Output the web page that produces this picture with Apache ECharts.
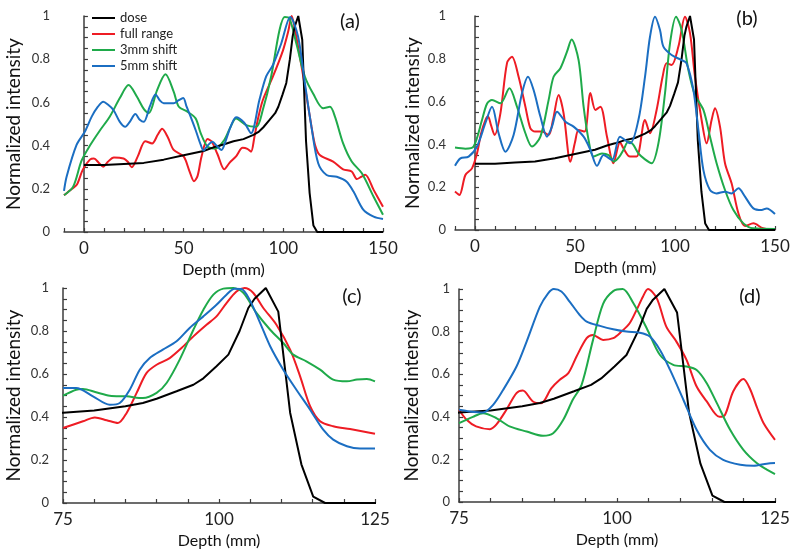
<!DOCTYPE html>
<html>
<head>
    <meta charset="utf-8">
    <title>Normalized intensity vs depth</title>
    <script src="https://cdn.jsdelivr.net/npm/echarts@6/dist/echarts.min.js"></script>
    <style>
        html, body {margin: 0; padding: 0; background: #fff;}
        #main {width: 800px; height: 559px;}
    </style>
</head>
<body>
<div id="main"></div>
<script>
    // series names (legend)
    var names = ['dose', 'full range', '3mm shift', '5mm shift'];
    var colors = ['#000000', '#ee1c24', '#1faa4a', '#1b6ec2'];

    // dose curve [depth mm, intensity], same in every panel
    var dose = [[0, 0.31], [10, 0.31], [20, 0.315], [30, 0.32], [40, 0.335], [50, 0.355], [60, 0.375], [66, 0.395],
        [70, 0.405], [75, 0.42], [80, 0.43], [85, 0.45], [87.8, 0.465], [90, 0.485], [93.2, 0.52], [95.9, 0.55],
        [97.5, 0.58], [99.6, 0.636], [101.5, 0.69], [103.3, 0.80], [104.7, 0.907], [105.7, 0.95], [107.5, 1.0],
        [109.5, 0.89], [111.4, 0.42], [113.2, 0.18], [115.1, 0.03], [117, 0], [150, 0]];

    // panel (a)
    var aFull = [[-10, 0.17], [-6, 0.2], [-3.5, 0.22], [-0.5, 0.29], [3, 0.335], [5, 0.34], [7.5, 0.32], [9.7, 0.302],
        [12, 0.325], [15, 0.345], [19.9, 0.34], [22, 0.325], [24, 0.3], [27, 0.35], [30.8, 0.42], [34.2, 0.41],
        [37, 0.45], [39.2, 0.478], [42, 0.44], [45, 0.38], [50, 0.35], [53, 0.28], [55.2, 0.235], [57, 0.26],
        [59, 0.35], [62, 0.43], [64, 0.42], [67, 0.36], [70.4, 0.29], [73, 0.32], [76.3, 0.35], [79.6, 0.39],
        [82, 0.385], [83.8, 0.372], [85.5, 0.44], [87.2, 0.52], [89.7, 0.61], [94.8, 0.72], [99.8, 0.84],
        [102.5, 0.93], [104.2, 1.0], [106, 0.93], [110, 0.72], [114.1, 0.49], [116, 0.4], [118.3, 0.356],
        [125, 0.326], [130, 0.29], [134.3, 0.28], [136.9, 0.245], [139, 0.255], [141.1, 0.265], [145.3, 0.195],
        [150, 0.117]];
    var aShift3 = [[-10, 0.17], [-5.4, 0.21], [-1.2, 0.33], [3, 0.4], [8, 0.47], [13, 0.535], [18, 0.62], [22.4, 0.68],
        [26.6, 0.626], [30, 0.57], [32.5, 0.55], [36.7, 0.657], [40.9, 0.73], [45, 0.65], [47.6, 0.58], [51.9, 0.557],
        [56, 0.526], [58.6, 0.457], [62, 0.395], [66, 0.387], [70.4, 0.426], [73.7, 0.49], [76.3, 0.525],
        [81.3, 0.495], [86.4, 0.487], [89.7, 0.565], [93.9, 0.72], [98.1, 0.935], [100.7, 0.995], [103, 0.99],
        [106.6, 0.87], [110.8, 0.72], [115, 0.64], [120, 0.573], [123.4, 0.58], [125.9, 0.534], [130, 0.41],
        [134.3, 0.326], [139.4, 0.272], [145.3, 0.163], [150, 0.08]];
    var aShift5 = [[-10, 0.19], [-8.7, 0.256], [-3.7, 0.403], [0.5, 0.465], [3.9, 0.534], [7, 0.58], [9.7, 0.603],
        [12, 0.59], [14.8, 0.565], [18, 0.51], [20.7, 0.487], [23, 0.51], [25.8, 0.546], [28, 0.52], [30, 0.51],
        [33, 0.58], [35.9, 0.637], [38, 0.61], [40, 0.596], [45, 0.596], [47.5, 0.61], [49.8, 0.62], [51.5, 0.58],
        [53.5, 0.534], [56.1, 0.47], [58.6, 0.403], [60, 0.377], [62, 0.4], [64.5, 0.418], [66.5, 0.4], [69, 0.38],
        [71, 0.42], [73.7, 0.49], [76.3, 0.531], [80.4, 0.506], [83.8, 0.457], [88, 0.611], [91.4, 0.72],
        [94.8, 0.773], [99, 0.874], [103.5, 0.995], [107.4, 0.905], [110.8, 0.69], [114.1, 0.487], [117.5, 0.318],
        [121.7, 0.264], [126.8, 0.256], [131.8, 0.233], [135.2, 0.187], [140.2, 0.102], [145.3, 0.071], [150, 0.06]];

    // panel (b)
    var bFull = [[-10, 0.18], [-7.8, 0.164], [-4.8, 0.257], [-1.5, 0.288], [1, 0.358], [3, 0.45], [5.2, 0.514],
        [6.5, 0.53], [8, 0.49], [9.8, 0.444], [12.7, 0.545], [16, 0.78], [18.5, 0.81], [21.8, 0.716], [25.2, 0.576],
        [27.7, 0.475], [30, 0.46], [33.5, 0.46], [36.8, 0.444], [39, 0.514], [41.8, 0.631], [44.3, 0.545],
        [47.7, 0.319], [50, 0.41], [51.8, 0.467], [54.8, 0.46], [57.7, 0.64], [60.2, 0.561], [62.7, 0.576],
        [66, 0.436], [69.2, 0.312], [72.5, 0.41], [74.2, 0.382], [77.5, 0.343], [80.8, 0.343], [85, 0.514],
        [87.5, 0.452], [90.8, 0.561], [93.8, 0.716], [95.8, 0.779], [98.3, 0.771], [101.7, 0.857], [105, 0.997],
        [107.5, 0.92], [110, 0.716], [113.3, 0.514], [115.8, 0.405], [118.3, 0.514], [120, 0.569], [122.5, 0.483],
        [125, 0.312], [128.3, 0.218], [131.7, 0.078], [135, 0.019], [139.2, 0.031], [144, 0.008], [150, 0]];
    var bShift3 = [[-10, 0.385], [-4.8, 0.38], [-0.7, 0.39], [3.5, 0.514], [6, 0.59], [8.5, 0.607], [12.7, 0.592],
        [17.2, 0.662], [21, 0.576], [25.2, 0.452], [28.5, 0.39], [32.7, 0.436], [36.8, 0.607], [39.3, 0.716],
        [42.7, 0.756], [46, 0.833], [48.3, 0.89], [51.8, 0.794], [54.3, 0.576], [56.8, 0.42], [59.3, 0.343],
        [63.5, 0.358], [66.8, 0.35], [69.5, 0.32], [72, 0.34], [74.2, 0.374], [76.7, 0.413], [79, 0.4],
        [81.7, 0.358], [85, 0.33], [88.3, 0.312], [91.7, 0.405], [95, 0.639], [97.5, 0.872], [100.5, 0.997],
        [103.3, 0.935], [106.7, 0.748], [110, 0.631], [114.2, 0.561], [117.5, 0.436], [120.8, 0.312], [125, 0.187],
        [129.2, 0.093], [134.2, 0.031], [139, 0.008], [150, 0.005]];
    var bShift5 = [[-10, 0.3], [-7.3, 0.335], [-3.2, 0.343], [1, 0.39], [5.2, 0.5], [8.5, 0.576], [11.8, 0.452],
        [15.2, 0.366], [19.3, 0.444], [23.5, 0.639], [26.5, 0.716], [29.3, 0.654], [32.7, 0.53], [36, 0.436],
        [38.5, 0.483], [41, 0.553], [45.2, 0.506], [49.3, 0.483], [54.3, 0.436], [57.7, 0.374], [61, 0.3],
        [64.3, 0.35], [68.5, 0.327], [72.5, 0.436], [77.5, 0.405], [81.7, 0.514], [85, 0.716], [87.5, 0.903],
        [90, 0.997], [92.5, 0.935], [94.2, 0.857], [98.3, 0.818], [103.3, 0.794], [105.8, 0.779], [109.2, 0.654],
        [111.7, 0.467], [114.2, 0.28], [117.5, 0.187], [120.8, 0.171], [125, 0.179], [128.3, 0.171], [131.7, 0.195],
        [135, 0.156], [139.2, 0.101], [143.3, 0.093], [145.8, 0.101], [150, 0.075]];

    // panel (c)
    var cFull = [[75, 0.349], [78.2, 0.38], [80.1, 0.398], [82, 0.385], [83.8, 0.372], [85.2, 0.419], [86.8, 0.512],
        [88.4, 0.605], [90, 0.643], [92.1, 0.674], [94, 0.721], [95.9, 0.775], [98, 0.829], [99.6, 0.868],
        [101.2, 0.93], [102.8, 0.984], [104.1, 1.0], [105.5, 0.977], [107.1, 0.907], [109.2, 0.829], [111.4, 0.713],
        [113, 0.589], [114.6, 0.45], [116.2, 0.38], [118.3, 0.357], [121, 0.344], [123.1, 0.333], [125, 0.322]];
    var cShift3 = [[75, 0.499], [77.1, 0.527], [78.2, 0.53], [80.3, 0.515], [82.5, 0.499], [85.2, 0.496],
        [87.8, 0.488], [90, 0.512], [91.6, 0.558], [93.7, 0.667], [95.9, 0.806], [97.5, 0.899], [99.1, 0.969],
        [100.7, 0.997], [102.3, 1.0], [103.9, 0.977], [106, 0.884], [108.2, 0.806], [110.3, 0.744], [111.9, 0.69],
        [114, 0.659], [116.2, 0.62], [118.3, 0.574], [120.5, 0.566], [122.1, 0.574], [123.7, 0.577], [125, 0.566]];
    var cShift5 = [[75, 0.535], [77.1, 0.535], [79.8, 0.496], [82.5, 0.457], [84.1, 0.465], [85.7, 0.527],
        [87.3, 0.62], [88.9, 0.674], [91, 0.713], [93.2, 0.752], [95.3, 0.814], [97.5, 0.868], [99.6, 0.922],
        [101.2, 0.969], [102.5, 0.997], [103.6, 0.995], [104.9, 0.946], [106.6, 0.837], [108.2, 0.729],
        [110.3, 0.62], [112.4, 0.527], [114.6, 0.434], [116.7, 0.341], [118.3, 0.295], [120.5, 0.264],
        [122.6, 0.253], [125, 0.253]];

    // panel (d)
    var dFull = [[75, 0.433], [76.2, 0.386], [77.7, 0.355], [79.9, 0.342], [80.9, 0.363], [82.5, 0.433],
        [84.1, 0.511], [85.1, 0.523], [86.7, 0.472], [88, 0.464], [89.6, 0.534], [90.9, 0.573], [92.3, 0.605],
        [93.6, 0.683], [95.2, 0.769], [96.2, 0.784], [97.8, 0.761], [99.4, 0.769], [100.7, 0.8], [102, 0.839],
        [103.1, 0.902], [104.1, 0.964], [104.9, 1.0], [106.3, 0.956], [107.8, 0.823], [109.4, 0.753], [111, 0.667],
        [112.6, 0.542], [114.2, 0.472], [116.2, 0.4], [117.1, 0.41], [118.4, 0.52], [120, 0.577], [121, 0.534],
        [122.1, 0.448], [123.2, 0.37], [125, 0.292]];
    var dShift3 = [[75, 0.37], [77.2, 0.40], [78.8, 0.417], [80.9, 0.394], [83, 0.355], [85.7, 0.331], [88.3, 0.311],
        [89.9, 0.323], [91.5, 0.386], [93, 0.48], [94.4, 0.55], [96.2, 0.76], [97.8, 0.93], [99.4, 0.99],
        [100.9, 1.0], [102.6, 0.933], [104.7, 0.816], [106.8, 0.69], [108.9, 0.644], [111, 0.636], [112.6, 0.62],
        [114.2, 0.558], [115.8, 0.464], [117.9, 0.339], [120, 0.245], [122.1, 0.183], [123.7, 0.152], [125, 0.131]];
    var dShift5 = [[75, 0.433], [76.7, 0.425], [78.8, 0.42], [80.4, 0.456], [82, 0.527], [84.1, 0.636],
        [85.7, 0.753], [87.8, 0.917], [89.1, 0.98], [90, 1.0], [91.2, 0.988], [92.5, 0.941], [94.1, 0.878],
        [95.2, 0.847], [97.3, 0.827], [99.4, 0.811], [101.5, 0.8], [103.6, 0.795], [105.2, 0.777], [106.8, 0.714],
        [108.4, 0.62], [110.5, 0.48], [112.6, 0.339], [114.7, 0.245], [116.8, 0.198], [119.5, 0.175], [121.6, 0.17],
        [123.7, 0.18], [125, 0.183]];

    var panels = [
        {tag: '(a)', data: [dose, aFull, aShift3, aShift5], xMin: -10, xMax: 150, xStep: 10, labelStep: 50},
        {tag: '(b)', data: [dose, bFull, bShift3, bShift5], xMin: -10, xMax: 150, xStep: 10, labelStep: 50},
        {tag: '(c)', data: [dose, cFull, cShift3, cShift5], xMin: 75, xMax: 125, xStep: 5, labelStep: 25},
        {tag: '(d)', data: [dose, dFull, dShift3, dShift5], xMin: 75, xMax: 125, xStep: 5, labelStep: 25}
    ];

    // plot rectangles, px
    var grids = [
        {left: 64, top: 16, width: 319, height: 216, yGap: 41, yLabelMargin: 14},
        {left: 455, top: 16, width: 320, height: 214, yGap: 33, yLabelMargin: 9},
        {left: 63, top: 288, width: 312, height: 215, yGap: 40, yLabelMargin: 14},
        {left: 459, top: 289, width: 316, height: 213, yGap: 38, yLabelMargin: 9}
    ];
    var tagPos = [[350, 22], [747, 19], [352, 297], [750, 297]];

    var font = 'Lato, "Open Sans", sans-serif';
    var axisColor = '#3c3c3c';

    var chart = echarts.init(document.getElementById('main'));

    var option = {
        animation: false,
        textStyle: {fontFamily: font},
        legend: {
            data: names,
            orient: 'vertical',
            left: 87,
            top: 6,
            icon: 'rect',
            itemWidth: 23,
            itemHeight: 2,
            itemGap: 2,
            selectedMode: false,
            textStyle: {fontSize: 13, lineHeight: 14, color: '#222', fontFamily: font}
        },
        grid: [],
        xAxis: [],
        yAxis: [],
        series: [],
        graphic: []
    };

    panels.forEach(function (p, i) {
        var g = grids[i];
        option.grid.push({left: g.left, top: g.top, width: g.width, height: g.height, outerBoundsMode: 'none'});
        option.xAxis.push({
            type: 'value', gridIndex: i, min: p.xMin, max: p.xMax, interval: p.xStep,
            name: 'Depth (mm)', nameLocation: 'middle', nameGap: 30,
            nameTextStyle: {fontSize: 16, color: '#111', fontFamily: font},
            axisLine: {lineStyle: {color: axisColor, width: 1.5}},
            axisTick: {inside: true, length: 4, lineStyle: {color: axisColor, width: 1.2}},
            splitLine: {show: false},
            axisLabel: {
                fontSize: 17, color: '#222', margin: 8, fontFamily: font,
                formatter: function (v) {
                    return v >= 0 && v % p.labelStep === 0 ? String(v) : '';
                }
            }
        });
        option.yAxis.push({
            type: 'value', gridIndex: i, min: 0, max: 1, interval: 0.05,
            name: 'Normalized intensity', nameLocation: 'middle', nameGap: g.yGap,
            nameTextStyle: {fontSize: 19, color: '#111', fontFamily: font},
            axisLine: {show: true, lineStyle: {color: axisColor, width: 1.5}},
            axisTick: {show: true, inside: true, length: 4, lineStyle: {color: axisColor, width: 1.2}},
            splitLine: {show: false},
            axisLabel: {
                fontSize: 13, color: '#333', margin: g.yLabelMargin, fontFamily: font,
                formatter: function (v) {
                    var k = v * 5;
                    return Math.abs(k - Math.round(k)) < 1e-6 ? String(Math.round(v * 10) / 10) : '';
                }
            }
        });
        p.data.forEach(function (d, s) {
            option.series.push({
                name: names[s],
                type: 'line',
                xAxisIndex: i,
                yAxisIndex: i,
                data: d,
                symbol: 'none',
                smooth: s === 0 ? false : 0.3,
                clip: true,
                z: s === 0 ? 5 : 2 + s,
                lineStyle: {color: colors[s], width: 2},
                itemStyle: {color: colors[s]},
                emphasis: {disabled: true}
            });
        });
        option.graphic.push({
            type: 'text',
            x: tagPos[i][0],
            y: tagPos[i][1],
            style: {
                text: p.tag, fill: '#111', font: '20px ' + font,
                textAlign: 'center', textVerticalAlign: 'middle'
            }
        });
    });

    chart.setOption(option);
</script>
</body>
</html>
